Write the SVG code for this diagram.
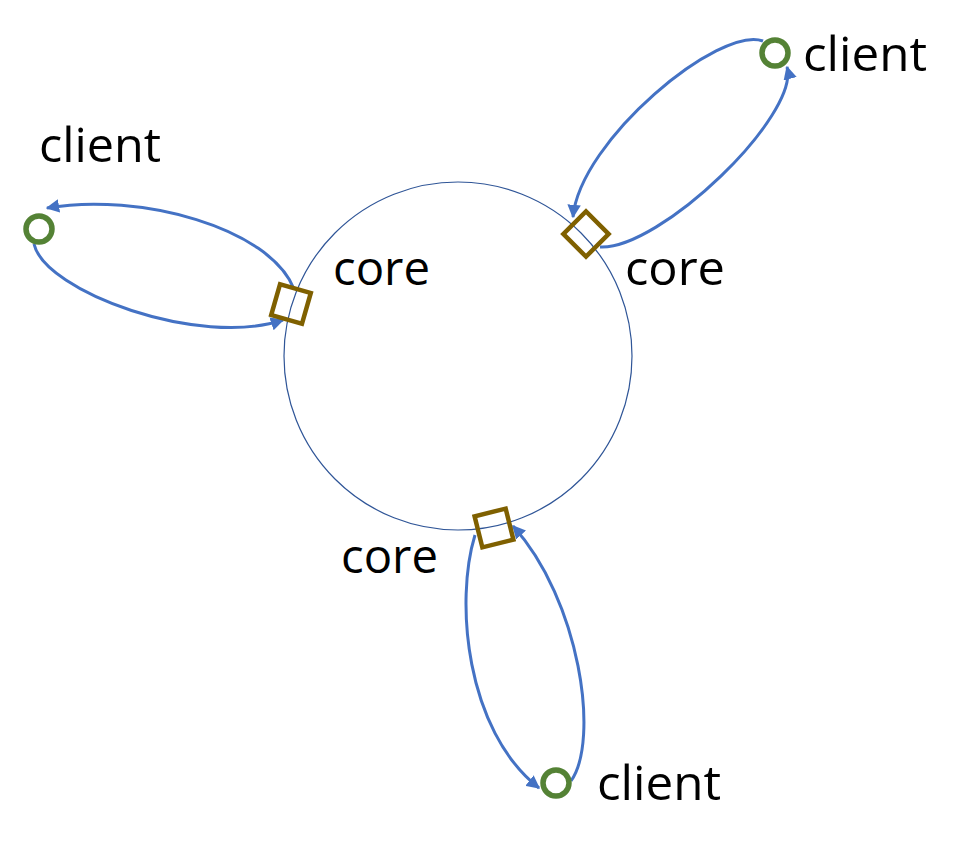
<svg xmlns="http://www.w3.org/2000/svg" width="967" height="850" viewBox="0 0 967 850">
<style>
.lbl{font-family:"Open Sans","Liberation Sans",sans-serif;font-size:48px;fill:#000}
.ring{fill:none;stroke:#2F5597;stroke-width:1.2}
.core{fill:#fff;fill-opacity:0;stroke:#7F6000;stroke-width:4.5}
.client{fill:#fff;stroke:#548235;stroke-width:5.5}
.arc{fill:none;stroke:#4472C4;stroke-width:3}
</style>
<defs>
<marker id="ah" viewBox="0 0 10 10" refX="9" refY="5" markerWidth="4.5" markerHeight="4.5" orient="auto" markerUnits="strokeWidth">
<path d="M0,0 L10,5 L0,10 z" fill="#4472C4"/>
</marker>
</defs>
<rect width="967" height="850" fill="#fff"/>
<g id="ring"><circle class="ring" cx="458" cy="356" r="174"/></g>
<g id="connectors">
<path class="arc" d="M294,289 C270,228 140,192 47,208" marker-end="url(#ah)"/>
<path class="arc" d="M34,244 C45,292 200,348 283,320" marker-end="url(#ah)"/>
<path class="arc" d="M763,41 C720,25 580,140 573,217" marker-end="url(#ah)"/>
<path class="arc" d="M600,247 C660,250 800,115 787,67" marker-end="url(#ah)"/>
<path class="arc" d="M475,535 C455,600 465,730 539,788" marker-end="url(#ah)"/>
<path class="arc" d="M571,781 C600,740 580,600 513,526" marker-end="url(#ah)"/>
</g>
<g id="core-left"><rect class="core" x="-16" y="-16" width="32" height="32" transform="translate(291,304) rotate(16)"/><text class="lbl" x="333" y="285" textLength="97" lengthAdjust="spacingAndGlyphs">core</text></g>
<g id="core-right"><rect class="core" x="-16" y="-16" width="32" height="32" transform="translate(586,234) rotate(45)"/><text class="lbl" x="625" y="285" textLength="100" lengthAdjust="spacingAndGlyphs">core</text></g>
<g id="core-bottom"><rect class="core" x="-16" y="-16" width="32" height="32" transform="translate(494,528) rotate(-14)"/><text class="lbl" x="341" y="573" textLength="97" lengthAdjust="spacingAndGlyphs">core</text></g>
<g id="client-left"><circle class="client" cx="39" cy="229" r="13"/><text class="lbl" x="39" y="162" textLength="122" lengthAdjust="spacingAndGlyphs">client</text></g>
<g id="client-top"><circle class="client" cx="775" cy="53" r="13"/><text class="lbl" x="803" y="71" textLength="124" lengthAdjust="spacingAndGlyphs">client</text></g>
<g id="client-bottom"><circle class="client" cx="556" cy="783" r="13"/><text class="lbl" x="597" y="800" textLength="124" lengthAdjust="spacingAndGlyphs">client</text></g>
</svg>
